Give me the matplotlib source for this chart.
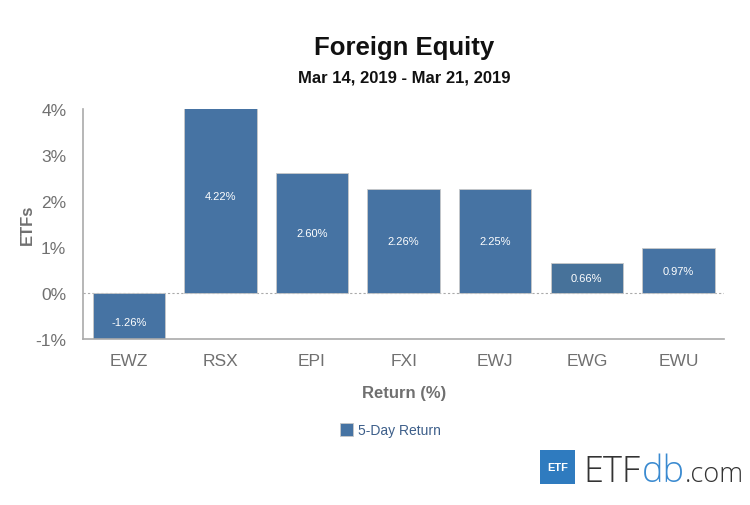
import matplotlib.pyplot as plt
from matplotlib.patches import Rectangle

plt.rcParams['font.family'] = ['Liberation Sans', 'DejaVu Sans']

tickers = ['EWZ', 'RSX', 'EPI', 'FXI', 'EWJ', 'EWG', 'EWU']
returns = [-1.26, 4.22, 2.60, 2.26, 2.25, 0.66, 0.97]
bar_colors = ['#4673a3', '#4673a3', '#4673a3', '#4673a3', '#4673a3', '#47729a', '#4673a3']
y_ticks = [-1, 0, 1, 2, 3, 4]

fig = plt.figure(figsize=(7.5, 5.06), dpi=100)
ax = fig.add_axes([0.1107, 0.328, 0.855, 0.455])

x = list(range(len(tickers)))
bars = ax.bar(x, returns, width=0.79, color=bar_colors, edgecolor='#c8c8c8', linewidth=0.6,
              label='5-Day Return', zorder=2)

for xi, v in zip(x, returns):
    ax.text(xi, v / 2, f'{v:.2f}%', ha='center', va='center', color='white', fontsize=8, zorder=3)

ax.set_xlim(-0.5, len(tickers) - 0.5)
ax.set_ylim(-1, 4)
ax.set_yticks(y_ticks)
ax.set_yticklabels([f'{t}%' for t in y_ticks])
ax.set_xticks(x)
ax.set_xticklabels(tickers)
ax.axhline(0, color='#aaaaaa', linestyle=(0, (2, 2)), linewidth=0.8, zorder=1)

for s in ['top', 'right']:
    ax.spines[s].set_visible(False)
for s in ['left', 'bottom']:
    ax.spines[s].set_color('#aaaaaa')
    ax.spines[s].set_linewidth(1.2)
ax.tick_params(axis='both', length=0, colors='#707070', labelsize=12.5)
ax.tick_params(axis='x', pad=10)
ax.tick_params(axis='y', pad=12)

fig.text(0.037, 0.555, 'ETFs', rotation=90, ha='center', va='center', fontsize=12,
         fontweight='bold', color='#707070')
ax.set_xlabel('Return (%)', fontsize=12, fontweight='bold', color='#707070', labelpad=12)

fig.text(0.539, 0.905, 'Foreign Equity', ha='center', va='center', fontsize=18.5, fontweight='bold', color='#111111')
fig.text(0.539, 0.845, 'Mar 14, 2019 - Mar 21, 2019', ha='center', va='center', fontsize=12, fontweight='bold', color='#111111')

leg = fig.legend(handles=[bars], loc='center', bbox_to_anchor=(0.52, 0.148), frameon=False,
                 fontsize=10, handlelength=1.0, handleheight=1.0, handletextpad=0.3)
for t in leg.get_texts():
    t.set_color('#3d5f8a')

# logo
fig.patches.append(Rectangle((0.72, 0.042), 0.047, 0.066, transform=fig.transFigure,
                             facecolor='#2f7bbf', edgecolor='none'))
fig.text(0.7435, 0.075, 'ETF', ha='center', va='center', color='white', fontsize=8, fontweight='bold')
t1 = fig.text(0.778, 0.048, 'ETF', ha='left', va='baseline', color='#333333', fontsize=26,
              family=['Open Sans', 'DejaVu Sans'], fontweight='light')
t2 = fig.text(0, 0, 'db', color='#3a8ad0', fontsize=26, family=['Open Sans', 'DejaVu Sans'],
              fontweight='light', va='baseline')
t3 = fig.text(0, 0, '.com', color='#333333', fontsize=19.5, family=['Open Sans', 'DejaVu Sans'],
              fontweight='light', va='baseline')

fig.canvas.draw()
r = fig.canvas.get_renderer()
inv = fig.transFigure.inverted()
bb1 = t1.get_window_extent(r)
t2.set_position((inv.transform((bb1.x1, 0))[0] + 0.002, 0.048))
fig.canvas.draw()
bb2 = t2.get_window_extent(r)
t3.set_position((inv.transform((bb2.x1, 0))[0], 0.048))

fig.savefig('out.png', dpi=100)
